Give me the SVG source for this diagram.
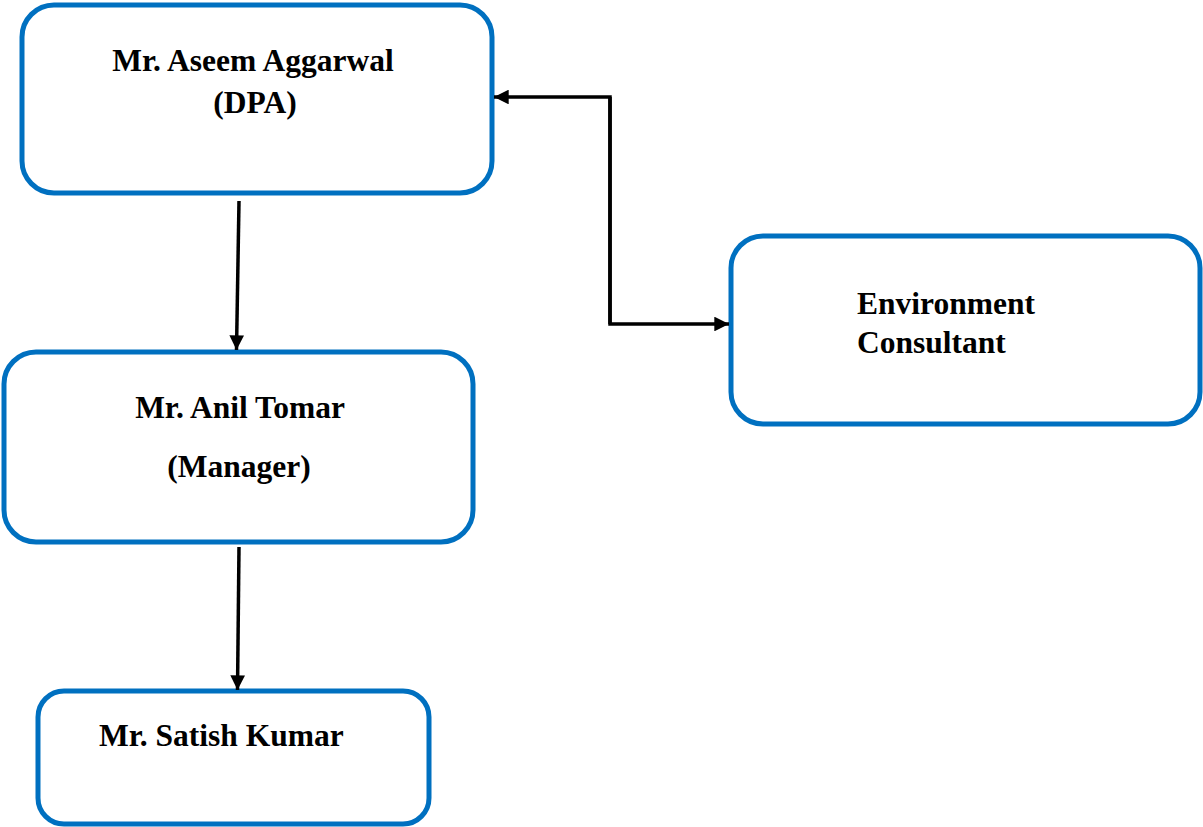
<svg xmlns="http://www.w3.org/2000/svg" width="1203" height="827" viewBox="0 0 1203 827">
<defs>
<style>
.box{fill:#fff;stroke:#0070C0;stroke-width:5}
.t{font-family:"Liberation Serif","Times New Roman",serif;font-weight:bold;font-size:31.5px;fill:#000}
.c{stroke:#000;stroke-width:3.5;fill:none}
</style>
<marker id="ah" viewBox="0 0 10 10" refX="10" refY="5" markerWidth="4.2" markerHeight="4.2" orient="auto" markerUnits="strokeWidth">
<path d="M0,0 L10,5 L0,10 z" fill="#000"/>
</marker>
</defs>
<rect width="1203" height="827" fill="#fff"/>
<g id="n-aseem">
<rect class="box" x="22" y="5" width="470" height="188" rx="32"/>
<text class="t" x="253" y="71" text-anchor="middle">Mr. Aseem Aggarwal</text>
<text class="t" x="255" y="113" text-anchor="middle">(DPA)</text>
</g>
<g id="n-anil">
<rect class="box" x="4" y="352" width="469" height="190" rx="32"/>
<text class="t" x="240" y="418" text-anchor="middle">Mr. Anil Tomar</text>
<text class="t" x="239" y="477" text-anchor="middle">(Manager)</text>
</g>
<g id="n-satish">
<rect class="box" x="38" y="691" width="391" height="133" rx="26"/>
<text class="t" x="99" y="746">Mr. Satish Kumar</text>
</g>
<g id="n-env">
<rect class="box" x="731" y="236" width="469" height="188" rx="32"/>
<text class="t" x="857" y="314">Environment</text>
<text class="t" x="857" y="353">Consultant</text>
</g>
<g id="connectors">
<path class="c" d="M239,201 L236.5,350" marker-end="url(#ah)"/>
<path class="c" d="M239,547 L237.5,690" marker-end="url(#ah)"/>
<path class="c" d="M610,324 L610,97 L494,97" marker-end="url(#ah)"/>
<path class="c" d="M610,97 L610,324 L729,324" marker-end="url(#ah)"/>
</g>
</svg>
